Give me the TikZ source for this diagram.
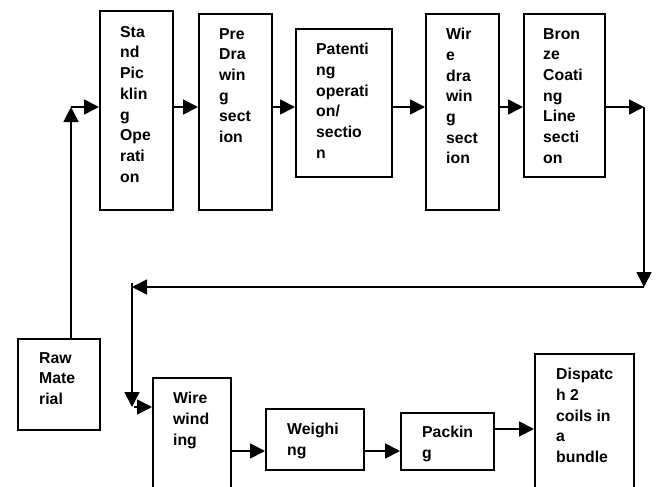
\documentclass[tikz,border=0pt]{standalone}
\usepackage{fontspec}
\setmainfont{Liberation Sans}
\usetikzlibrary{arrows.meta}
\begin{document}
\begin{tikzpicture}[x=1pt,y=-1pt,
  box/.style={draw, line width=1.8pt, rectangle, inner sep=0pt, anchor=north west},
  txt/.style={anchor=north west, inner sep=0pt, align=left,
    font=\fontsize{15.8}{20.7}\selectfont\bfseries},
  arr/.style={line width=1.8pt, -{Triangle[length=15pt,width=15pt]}},
  ln/.style={line width=1.8pt}]
\clip (0,0) rectangle (656,487);
\fill[white] (0,0) rectangle (656,487);
% top row boxes
\node[box, minimum width=73, minimum height=199] (b1) at (99,10) {};
\node[box, minimum width=73, minimum height=196] (b2) at (198,13) {};
\node[box, minimum width=96, minimum height=148] (b3) at (295,28) {};
\node[box, minimum width=73, minimum height=196] (b4) at (425,13) {};
\node[box, minimum width=81, minimum height=163] (b5) at (523,13) {};
% raw material
\node[box, minimum width=82, minimum height=91] (b0) at (17,338) {};
% bottom row
\node[box, minimum width=78, minimum height=140] (b6) at (152,377) {};
\node[box, minimum width=98, minimum height=61] (b7) at (265,408) {};
\node[box, minimum width=93, minimum height=57] (b8) at (400,412) {};
\node[box, minimum width=99, minimum height=160] (b9) at (534,353) {};
% texts
\node[txt] (t1) at (120,26) {Sta\\nd\\Pic\\klin\\g\\Ope\\rati\\on};
\node[txt] (t2) at (219,28) {Pre\\Dra\\win\\g\\sect\\ion};
\node[txt] (t3) at (316,43) {Patenti\\ng\\operati\\on/\\sectio\\n};
\node[txt] (t4) at (446,28) {Wir\\e\\dra\\win\\g\\sect\\ion};
\node[txt] (t5) at (543,28) {Bron\\ze\\Coati\\ng\\Line\\secti\\on};
\node[txt] (t0) at (39,352) {Raw\\Mate\\rial};
\node[txt] (t6) at (173,392) {Wire\\wind\\ing};
\node[txt] (t7) at (287,423) {Weighi\\ng};
\node[txt] (t8) at (422,426) {Packin\\g};
\node[txt] (t9) at (556,368) {Dispatc\\h 2\\coils in\\a\\bundle};
% connectors
\coordinate (r) at (0,107);
\coordinate (c0) at (71,107);
\draw[arr] (b0.north -| c0) -- (c0);
\draw[ln] (c0) -- ++(1,0);
\draw[arr] (c0) -- (c0 -| b1.west);
\draw[arr] (b1.east |- r) -- (b2.west |- r);
\draw[arr] (b2.east |- r) -- (b3.west |- r);
\draw[arr] (b3.east |- r) -- (b4.west |- r);
\draw[arr] (b4.east |- r) -- (b5.west |- r);
\coordinate (c1) at (644,107);
\coordinate (c2) at (644,287);
\coordinate (c3) at (132,287);
\coordinate (c4) at (132,407);
\coordinate (c5) at (134,407);
\draw[arr] (b5.east |- r) -- (c1);
\draw[arr] (c1) -- (c2);
\draw[arr] (c2) -- (c3);
\draw[arr] (c3) ++(0,-4) -- (c4);
\draw[arr] (c5) -- (c5 -| b6.west);
\coordinate (r2) at (0,451);
\coordinate (r3) at (0,429);
\draw[arr] (b6.east |- r2) -- (b7.west |- r2);
\draw[arr] (b7.east |- r2) -- (b8.west |- r2);
\draw[arr] (b8.east |- r3) -- (b9.west |- r3);
\end{tikzpicture}
\end{document}
